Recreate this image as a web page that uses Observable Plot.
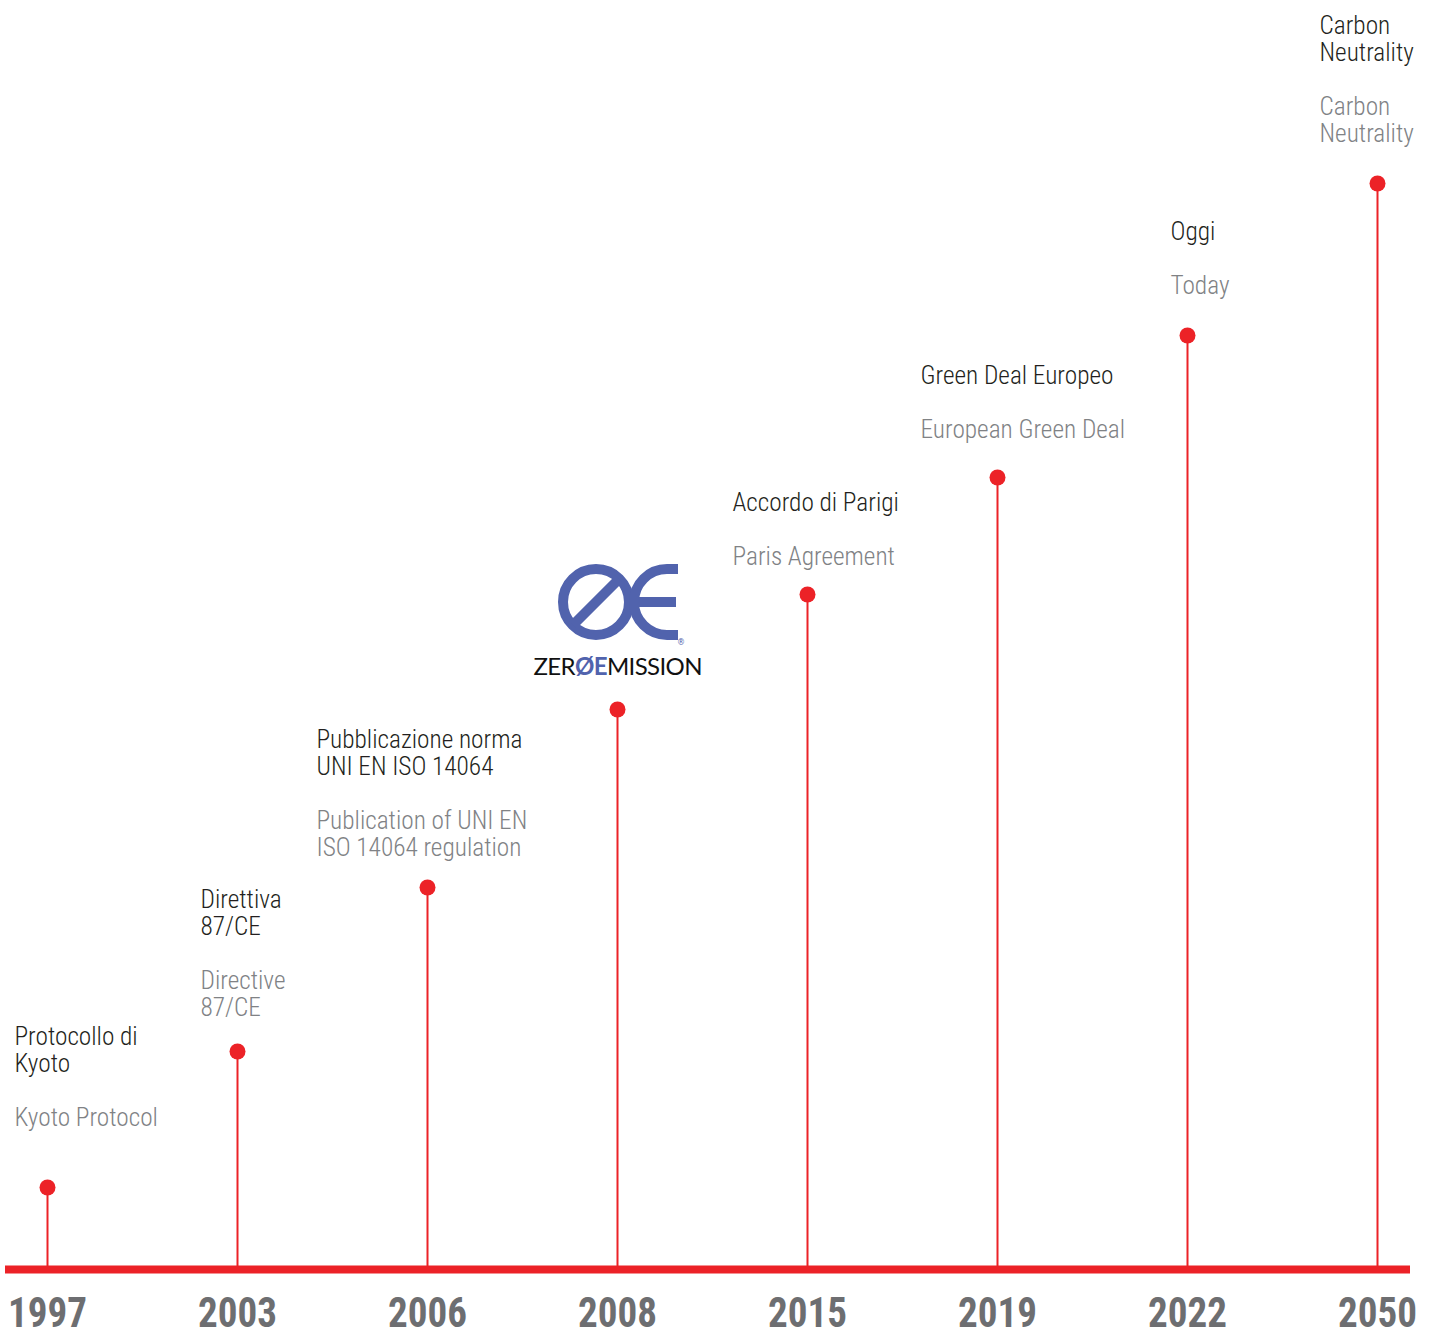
<!DOCTYPE html>
<html>
<head>
<meta charset="utf-8">
<script src="https://cdn.jsdelivr.net/npm/d3@7"></script>
<script src="https://cdn.jsdelivr.net/npm/@observablehq/plot@0.6"></script>
<style>
  html, body { margin: 0; padding: 0; background: #ffffff; }
  #chart svg { display: block; }
</style>
</head>
<body>
<div id="chart"></div>
<script>
// ---------- data ----------
const years = ["1997", "2003", "2006", "2008", "2015", "2019", "2022", "2050"];
// stem heights (arbitrary "milestone level" units)
const levels = [82, 218, 382, 560, 675, 792, 934, 1086];
const labelsIt = [
  "Protocollo di\nKyoto",
  "Direttiva\n87/CE",
  "Pubblicazione norma\nUNI EN ISO 14064",
  "",
  "Accordo di Parigi",
  "Green Deal Europeo",
  "Oggi",
  "Carbon\nNeutrality"
];
const labelsEn = [
  "Kyoto Protocol",
  "Directive\n87/CE",
  "Publication of UNI EN\nISO 14064 regulation",
  "",
  "Paris Agreement",
  "European Green Deal",
  "Today",
  "Carbon\nNeutrality"
];
const logoYear = "2008";
const logoWordmark = ["ZER", "ØE", "MISSION"];

const data = years.map((year, i) => ({year, level: levels[i], it: labelsIt[i], en: labelsEn[i]}));

// ---------- fonts ----------
const ctx = document.createElement("canvas").getContext("2d");
function fontAvailable(name) {
  const s = "mmmmmmmmmmlli1997WwQq";
  return ["monospace", "serif"].some(fb => {
    ctx.font = `40px ${fb}`; const w0 = ctx.measureText(s).width;
    ctx.font = `40px '${name}', ${fb}`; const w1 = ctx.measureText(s).width;
    return Math.abs(w0 - w1) > 0.5;
  });
}
const candidates = ["Roboto Condensed", "Liberation Sans Narrow", "Arial Narrow", "Nimbus Sans Narrow", "Roboto", "Liberation Sans", "DejaVu Sans"];
const FAMILY = candidates.find(fontAvailable) || "sans-serif";
const FONT = `'${FAMILY}', sans-serif`;
function measure(text, size, weight) {
  ctx.font = `${weight} ${size}px ${FONT}`;
  return ctx.measureText(text).width;
}
const FS = 26, LH = 27;
const labelScale = 206 / measure("Pubblicazione norma", FS, 300);
const yearScale = 79 / measure("1997", 42, 700);

// ---------- style ----------
const RED = "#ec2227";
const BLUE = "#5163ad";
const DARK = "#231f20";
const GREY = "#808285";
const YEAR_GREY = "#6d6e71";

// label block placement relative to each dot (dx: left edge, dy: centre of last English line)
const labelLayout = {
  "1997": {dx: -33, dy: -71},
  "2003": {dx: -37, dy: -45},
  "2006": {dx: -111, dy: -41},
  "2015": {dx: -75, dy: -39},
  "2019": {dx: -77, dy: -49},
  "2022": {dx: -17, dy: -51},
  "2050": {dx: -58, dy: -51}
};

const labelMarks = data.filter(d => d.it).flatMap(d => {
  const {dx, dy} = labelLayout[d.year];
  const nEn = d.en.split("\n").length;
  const enBase = dy + 9;
  const itBase = dy - (nEn - 1) * LH - 2 * LH + 9;
  const common = {x: "year", y: "level", dx, textAnchor: "start", lineAnchor: "bottom",
                  lineHeight: LH / FS, fontSize: FS, fontFamily: FONT, fontWeight: 300};
  return [
    Plot.text([d], {...common, text: "en", dy: enBase, fill: GREY}),
    Plot.text([d], {...common, text: "it", dy: itBase, fill: DARK})
  ];
});

// ZeroEmission logo drawn above the 2008 milestone
function logoMark(index, scales) {
  const i = years.indexOf(logoYear);
  const sx = scales.x(logoYear), sy = scales.y(levels[i]);
  const g = d3.create("svg:g").attr("transform", `translate(${sx},${sy})`).attr("aria-label", "logo");
  const cx = -21, cy = -107, r = 33, sw = 10;
  g.append("circle").attr("cx", cx).attr("cy", cy).attr("r", r)
    .attr("fill", "none").attr("stroke", BLUE).attr("stroke-width", sw);
  g.append("line").attr("x1", cx - 23).attr("y1", cy + 23).attr("x2", cx + 23).attr("y2", cy - 23)
    .attr("stroke", BLUE).attr("stroke-width", sw);
  const ex = 50;
  g.append("path")
    .attr("d", `M${ex + 11},${cy - r} H${ex} A${r},${r} 0 0 0 ${ex},${cy + r} H${ex + 11}`)
    .attr("fill", "none").attr("stroke", BLUE).attr("stroke-width", sw);
  g.append("path")
    .attr("d", `M${ex - r + 2},${cy} H${ex + 9}`)
    .attr("stroke", BLUE).attr("stroke-width", sw);
  g.append("text").attr("x", 64).attr("y", -64).attr("font-size", 8)
    .attr("font-family", "DejaVu Sans, sans-serif").attr("fill", BLUE).text("®");
  const t = g.append("text").attr("x", 1).attr("y", -34).attr("text-anchor", "middle")
    .attr("font-family", "Lato, 'DejaVu Sans', sans-serif").attr("font-weight", 400)
    .attr("font-size", 24).attr("textLength", 169).attr("lengthAdjust", "spacing");
  t.append("tspan").attr("fill", "#111111").text(logoWordmark[0]);
  t.append("tspan").attr("fill", BLUE).attr("font-weight", 700).text(logoWordmark[1]);
  t.append("tspan").attr("fill", "#111111").text(logoWordmark[2]);
  return g.node();
}

const chart = Plot.plot({
  width: 1435,
  height: 1331,
  marginTop: 0,
  marginBottom: 62,
  marginLeft: 5,
  marginRight: 25,
  style: {fontFamily: FONT, background: "#ffffff", overflow: "visible"},
  x: {type: "point", domain: years, padding: 0, insetLeft: 39.5, insetRight: 31.3, label: null},
  y: {domain: [0, 1269], axis: null},
  marks: [
    Plot.ruleX(data, {x: "year", y1: 0, y2: "level", stroke: RED, strokeWidth: 2}),
    Plot.ruleY([0], {stroke: RED, strokeWidth: 8}),
    Plot.dot(data, {x: "year", y: "level", r: 8, fill: RED, stroke: "none"}),
    Plot.axisX({tickSize: 0, tickPadding: 28, fontSize: 42, fontWeight: "bold", color: YEAR_GREY, fill: YEAR_GREY, fontFamily: FONT, label: null}),
    ...labelMarks,
    logoMark
  ]
});

// condense the glyphs horizontally to match the narrow typeface of the reference
function condense(selector, f) {
  d3.select(chart).selectAll(selector).each(function () {
    const tr = this.getAttribute("transform") || "";
    this.setAttribute("transform", `${tr} scale(${f},1)`);
  });
}
condense("g[aria-label='text'] text", labelScale);
condense("g[aria-label='x-axis tick label'] text", yearScale);

document.getElementById("chart").appendChild(chart);
</script>
</body>
</html>
